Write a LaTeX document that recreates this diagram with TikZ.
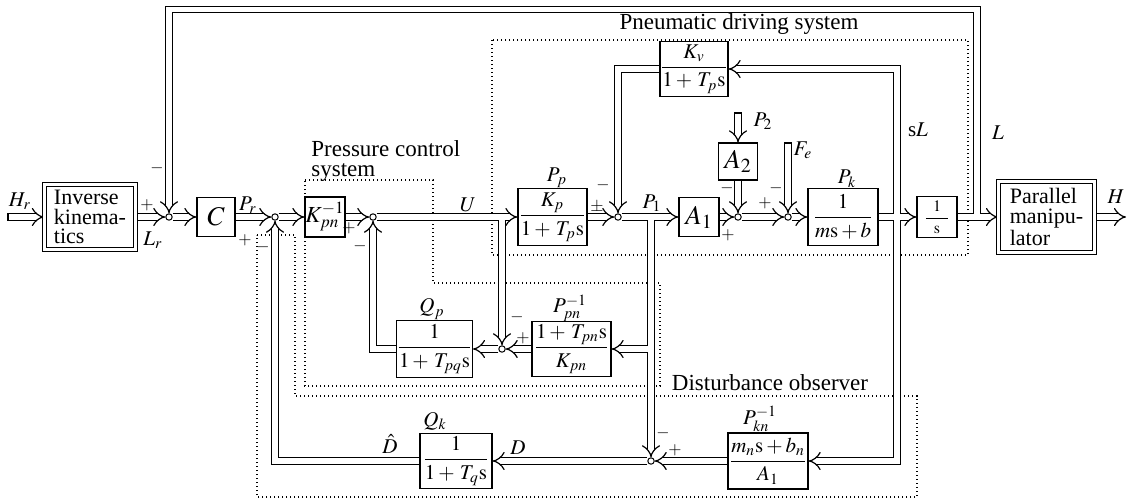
\documentclass[tikz,border=0pt]{standalone}
\usepackage{amsmath}
\usepackage{mathptmx}
\usepackage{fontspec}
\setmainfont{Liberation Serif}
\usetikzlibrary{arrows.meta, positioning, backgrounds}

\begin{document}
\begin{tikzpicture}[
    x=0.5pt, y=-0.5pt,
    font=\fontsize{10.5}{9}\selectfont,
    blk/.style={draw, line width=0.6pt, inner sep=0pt, align=center},
    bigblk/.style={blk, font=\fontsize{13.5}{14}\selectfont},
    dblk/.style={draw, double, double distance=1.4pt, line width=0.5pt, inner sep=0pt, align=left, font=\fontsize{11}{9.6}\selectfont},
    sumpt/.style={draw, circle, fill=white, line width=0.5pt, minimum size=3.2pt, inner sep=0pt},
    stopper/.style={draw, line width=0.6pt, inner sep=0pt, minimum size=0pt, minimum width=3.8pt},
    pipe/.style={double=white, double distance=2.6pt, line width=0.6pt, -{Implies[length=4.5pt, width=8pt]}},
    core/.style={draw=white, line width=2.6pt, shorten >=5pt},
    zone/.style={line width=0.7pt, dash pattern=on 0.7pt off 1.3pt},
    lbl/.style={inner sep=0pt},
    sgn/.style={inner sep=0pt, font=\fontsize{8.5}{8.5}\selectfont},
    title/.style={inner sep=0pt, font=\fontsize{11.5}{10.2}\selectfont}
]
\useasboundingbox (0,0) rectangle (1128,503);

% blocks of the forward path
\node (ik)  [dblk, minimum width=45.6pt, minimum height=32.6pt] at (90,217) {Inverse\\kinema-\\tics};
\node (c)   [bigblk, minimum width=19pt, minimum height=19.5pt] at (216,217) {$C$};
\node (kpn) [bigblk, minimum width=20pt, minimum height=20pt, font=\fontsize{11.5}{12}\selectfont] at (325,217) {$K_{pn}^{-1}$};
\node (pp)  [blk, minimum width=34.5pt, minimum height=28.5pt] at (552.5,217) {$\dfrac{K_p}{1+\,T_p\mathrm{s}}$};
\node (a1)  [bigblk, minimum width=20pt, minimum height=19.5pt] at (699,217) {$A_1$};
\node (a2)  [bigblk, minimum width=19.5pt, minimum height=18.5pt] at (738,161.5) {$A_2$};
\node (kv)  [blk, minimum width=34pt, minimum height=27.5pt] at (694,69) {$\dfrac{K_v}{1+\,T_p\mathrm{s}}$};
\node (pk)  [blk, minimum width=35pt, minimum height=28.5pt] at (843,217) {$\dfrac{1}{m\mathrm{s}+b}$};
\node (inv) [blk, minimum width=20pt, minimum height=20.5pt, font=\fontsize{8}{8}\selectfont] at (937,217) {$\dfrac{1}{\hspace{4pt}\mathrm{s}\hspace{4pt}}$};
\node (pm)  [dblk, minimum width=48pt, minimum height=35.6pt] at (1046.5,217) {Parallel\\manipu-\\lator};

% observer blocks
\node (qp)  [blk, minimum width=37.5pt, minimum height=28.5pt] at (434.5,349) {$\dfrac{1}{1+\,T_{pq}\mathrm{s}}$};
\node (ppn) [blk, minimum width=39.5pt, minimum height=27.5pt] at (571.5,349) {$\dfrac{1+\,T_{pn}\mathrm{s}}{K_{pn}}$};
\node (qk)  [blk, minimum width=36pt, minimum height=27.5pt] at (456,461) {$\dfrac{1}{1+\,T_q\mathrm{s}}$};
\node (pkn) [blk, minimum width=40pt, minimum height=28pt] at (768,461) {$\dfrac{m_n\mathrm{s}+b_n}{A_1}$};

% summing points
\node (sum1) [sumpt] at (169,217) {};
\node (sum2) [sumpt] at (275,217) {};
\node (sum3) [sumpt] at (373,217) {};
\node (sum4) [sumpt] at (618,217) {};
\node (sum5) [sumpt] at (502,349) {};
\node (sum6) [sumpt] at (738,217) {};
\node (sum7) [sumpt] at (788,217) {};
\node (sum8) [sumpt] at (651,461) {};

% free ends and branch points
\node (hrin) [stopper, rotate=90] at (8,217) {};
\node (p2in) [stopper] at (738,113) {};
\node (fein) [stopper] at (788,143) {};
\coordinate (hout) at (1126,217);
\coordinate (top) at (169,9.5);
\coordinate (bu) at (502,217);
\coordinate (bp) at (651,217);
\coordinate (bq) at (651,349);
\coordinate (bs) at (897,217);
\coordinate (bl) at (977,217);

% signal names
\node[lbl] (lhr)  at (20,201) {$H_r$};
\node[lbl] (llr)  at (153,240) {$L_r$};
\node[lbl] (lpr)  at (248,205) {$P_r$};
\node[lbl] (lu)   at (468,205) {$U$};
\node[lbl] (lpp)  at (557,178) {$P_p$};
\node[lbl] (lp1)  at (652,203) {$P_1$};
\node[lbl] (lp2)  at (763,121) {$P_2$};
\node[lbl] (lfe)  at (803,150) {$F_e$};
\node[lbl] (lpk)  at (847,179) {$P_k$};
\node[lbl] (lsl)  at (918,130) {s$L$};
\node[lbl] (ll)   at (998,133) {$L$};
\node[lbl] (lh)   at (1116,197) {$H$};
\node[lbl] (lqp)  at (432,309) {$Q_p$};
\node[lbl] (lppn) at (570,308) {$P_{pn}^{-1}$};
\node[lbl] (lqk)  at (435,421) {$Q_k$};
\node[lbl] (lpkn) at (760,419) {$P_{kn}^{-1}$};
\node[lbl] (ldh)  at (390,444) {$\hat{D}$};
\node[lbl] (ld)   at (518,448) {$D$};

% signs at the summing points
\node[sgn] (g1)  at (147,205) {$+$};
\node[sgn] (g2)  at (157,168) {$-$};
\node[sgn] (g3)  at (245,240) {$+$};
\node[sgn] (g4)  at (263,247) {$-$};
\node[sgn] (g5)  at (349,228) {$+$};
\node[sgn] (g6)  at (360,246) {$-$};
\node[sgn] (g7)  at (597,207) {$\pm$};
\node[sgn] (g8)  at (603,185) {$-$};
\node[sgn] (g9)  at (727,188) {$-$};
\node[sgn] (g10) at (728,235) {$+$};
\node[sgn] (g11) at (765,203) {$+$};
\node[sgn] (g12) at (776,188) {$-$};
\node[sgn] (g13) at (517,317) {$-$};
\node[sgn] (g14) at (523,338) {$+$};
\node[sgn] (g15) at (663,433) {$-$};
\node[sgn] (g16) at (675,450) {$+$};

% subsystem titles
\node[title] (tpn) at (739,24) {Pneumatic driving system};
\node[title, align=left, anchor=west] (tpc) at (311,161) {Pressure control\\system};
\node[title] (tdo) at (770,383) {Disturbance observer};

\begin{scope}[on background layer]
\draw[zone] (492,40) rectangle (968,255);
\draw[zone] (305,180) -- (433,180) -- (433,283) -- (660,283) -- (660,386) -- (305,386) -- cycle;
\draw[zone] (257,235) -- (295,235) -- (295,396) -- (917,396) -- (917,497) -- (257,497) -- cycle;
% pipes first, then their cores again so branches merge
\foreach \lay in {pipe,core} {
  \draw[\lay] (hrin) -- (ik);
  \draw[\lay] (ik) -- (sum1);
  \draw[\lay] (sum1) -- (c);
  \draw[\lay] (c) -- (sum2);
  \draw[\lay] (sum2) -- (kpn);
  \draw[\lay] (kpn) -- (sum3);
  \draw[\lay] (sum3) -- (pp);
  \draw[\lay] (bu) -- (sum5);
  \draw[\lay] (pp) -- (sum4);
  \draw[\lay] (sum4) -- (a1);
  \draw[\lay] (bp) -- (sum8);
  \draw[\lay] (bq) -- (ppn);
  \draw[\lay] (a1) -- (sum6);
  \draw[\lay] (p2in) -- (a2);
  \draw[\lay] (a2) -- (sum6);
  \draw[\lay] (sum6) -- (sum7);
  \draw[\lay] (fein) -- (sum7);
  \draw[\lay] (sum7) -- (pk);
  \draw[\lay] (pk) -- (inv);
  \draw[\lay] (bs) |- (kv);
  \draw[\lay] (kv) -| (sum4);
  \draw[\lay] (bs) |- (pkn);
  \draw[\lay] (inv) -- (pm);
  \draw[\lay] (bl) |- (top) -- (sum1);
  \draw[\lay] (pm) -- (hout);
  \draw[\lay] (ppn) -- (sum5);
  \draw[\lay] (sum5) -- (qp);
  \draw[\lay] (qp) -| (sum3);
  \draw[\lay] (pkn) -- (sum8);
  \draw[\lay] (sum8) -- (qk);
  \draw[\lay] (qk) -| (sum2);
}
\end{scope}
\end{tikzpicture}
\end{document}
